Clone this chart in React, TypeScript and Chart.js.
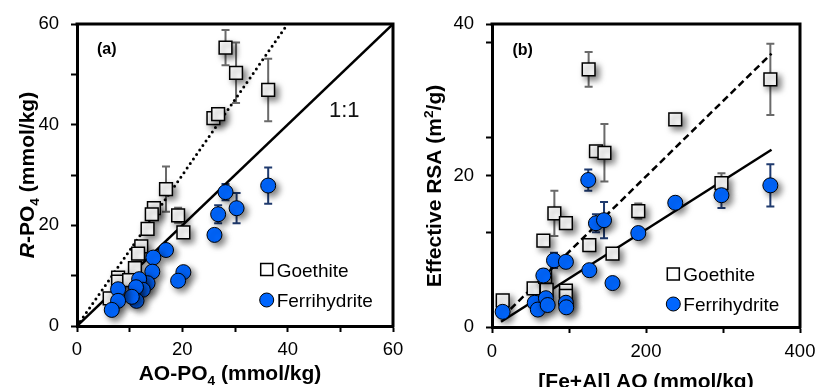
import React, { useEffect, useRef } from 'react';
import { Chart, registerables } from 'chart.js';
Chart.register(...registerables);

const FONT = "'Liberation Sans', Arial, Helvetica, sans-serif";
Chart.defaults.font.family = FONT;

// ---------- Panel (a) ----------
const aGoethiteX = [28.2, 30.2, 36.3, 25.9, 26.8, 16.9, 14.6, 14.2, 19.2, 20.2, 13.4, 12.2, 11.6, 11.0, 7.8, 7.8, 9.9, 6.2];
const aGoethiteY = [55.3, 50.3, 46.9, 41.3, 42.1, 27.2, 23.4, 22.2, 22.0, 18.6, 19.3, 15.8, 14.4, 11.5, 9.6, 8.8, 9.1, 5.5];
const aGoethiteErr = [3.5, 6.0, 6.2, 0, 1.0, 4.5, 0, 0, 1.5, 0, 0, 0, 0, 0, 0, 0, 0, 0];
const aFerriX = [36.3, 28.2, 30.3, 26.8, 26.1, 20.2, 19.2, 16.9, 14.5, 14.3, 13.4, 11.8, 12.5, 11.2, 11.3, 10.4, 7.8, 7.8, 6.6];
const aFerriY = [27.9, 26.6, 23.4, 22.2, 18.1, 10.7, 9.0, 15.1, 13.6, 10.8, 8.5, 9.3, 7.2, 7.7, 5.0, 5.8, 7.3, 5.0, 3.2];
const aFerriErr = [3.6, 1.6, 3.0, 1.8, 0, 0, 0, 0, 0, 0, 0, 0, 0, 0, 0, 0, 0, 0, 0];
const aOneToOneX = [0, 60];
const aOneToOneY = [0, 60];
const aDottedX = [0, 40];
const aDottedY = [0, 60];
const aXLabels = [0, 20, 40, 60];
const aYLabels = [0, 20, 40, 60];

// ---------- Panel (b) ----------
const bGoethiteX = [125.5, 361.5, 238, 135, 146, 81, 96, 190, 298, 66.7, 126.4, 156.5, 54, 13.9, 96, 96, 69, 71];
const bGoethiteY = [34.0, 32.7, 27.4, 23.2, 23.0, 15.0, 13.7, 15.3, 19.0, 11.4, 10.8, 9.7, 5.1, 3.5, 4.8, 4.1, 6.6, 4.9];
const bGoethiteErr = [2.3, 4.7, 0, 0, 3.8, 3.0, 0, 1.0, 1.3, 0, 0, 0.5, 0, 0, 0, 0, 0, 0];
const bFerriX = [125, 135, 145.5, 190, 80.5, 96, 66.7, 126.4, 156.5, 13.8, 55.5, 59.5, 70, 72.3, 96, 96.4, 361.5, 298, 238];
const bFerriY = [19.4, 13.7, 14.1, 12.4, 8.8, 8.6, 6.8, 7.5, 5.8, 2.0, 3.2, 2.3, 3.8, 2.9, 3.2, 2.6, 18.7, 17.4, 16.4];
const bFerriErr = [1.4, 1.2, 2.4, 0, 1.0, 0, 0.8, 0, 0, 0, 0, 0, 0, 0, 0, 0, 2.8, 1.7, 0];
const bDashedX = [13.9, 363];
const bDashedY = [1.36, 36.1];
const bSolidX = [11.7, 363];
const bSolidY = [0.7, 23.4];
const bXLabels = [0, 200, 400];
const bYTicks = [0, 12.5, 20, 25, 37.5, 40];
const bYLabels = [0, 20, 40];

const BLUE = '#0066ff';
const GOE_ERR = '#6a6a6a';
const FER_ERR = '#1f3a6e';

const pts = (xs: number[], ys: number[]) => xs.map((x, i) => ({ x, y: ys[i] }));

type Seg = { t: string; italic?: boolean; sub?: boolean; sup?: boolean };

function drawRich(ctx: CanvasRenderingContext2D, segs: Seg[], cx: number, baseY: number, size: number, rotate: boolean) {
  ctx.save();
  ctx.translate(cx, baseY);
  if (rotate) ctx.rotate(-Math.PI / 2);
  const fontOf = (s: Seg) => {
    const sz = s.sub || s.sup ? size * 0.65 : size;
    return `${s.italic ? 'italic ' : ''}bold ${sz}px ${FONT}`;
  };
  let total = 0;
  const widths = segs.map((s) => {
    ctx.font = fontOf(s);
    const w = ctx.measureText(s.t).width;
    total += w;
    return w;
  });
  let x = -total / 2;
  ctx.fillStyle = '#000';
  ctx.textBaseline = 'alphabetic';
  ctx.textAlign = 'left';
  segs.forEach((s, i) => {
    ctx.font = fontOf(s);
    const dy = s.sub ? size * 0.25 : s.sup ? -size * 0.4 : 0;
    ctx.fillText(s.t, x, dy);
    x += widths[i];
  });
  ctx.restore();
}

const shadowPlugin = {
  id: 'shadowPts',
  beforeDatasetDraw(chart: any, args: any) {
    const ds = chart.data.datasets[args.index];
    if (!ds.shadow) return;
    const ctx = chart.ctx;
    ctx.save();
    ctx.shadowColor = 'rgba(0,0,0,0.5)';
    ctx.shadowBlur = 6;
    ctx.shadowOffsetX = 3.5;
    ctx.shadowOffsetY = 3.5;
  },
  afterDatasetDraw(chart: any, args: any) {
    const ds = chart.data.datasets[args.index];
    if (!ds.shadow) return;
    chart.ctx.restore();
  },
};

const errorBarPlugin = {
  id: 'errBars',
  beforeDatasetsDraw(chart: any) {
    const ctx = chart.ctx;
    const xs = chart.scales.x;
    const ys = chart.scales.y;
    chart.data.datasets.forEach((ds: any) => {
      if (!ds.errors) return;
      ctx.save();
      ctx.strokeStyle = ds.errColor;
      ctx.lineWidth = 2;
      ds.data.forEach((p: any, i: number) => {
        const e = ds.errors[i];
        if (!e) return;
        const px = xs.getPixelForValue(p.x);
        const y1 = ys.getPixelForValue(p.y + e);
        const y2 = ys.getPixelForValue(p.y - e);
        ctx.beginPath();
        ctx.moveTo(px, y1);
        ctx.lineTo(px, y2);
        ctx.moveTo(px - 4, y1);
        ctx.lineTo(px + 4, y1);
        ctx.moveTo(px - 4, y2);
        ctx.lineTo(px + 4, y2);
        ctx.stroke();
      });
      ctx.restore();
    });
  },
};

function legend(ctx: CanvasRenderingContext2D, mx: number, y1: number, y2: number) {
  ctx.save();
  ctx.fillStyle = '#fff';
  ctx.strokeStyle = '#000';
  ctx.lineWidth = 1.5;
  ctx.fillRect(mx - 6, y1 - 6, 12, 12);
  ctx.strokeRect(mx - 6, y1 - 6, 12, 12);
  ctx.beginPath();
  ctx.arc(mx, y2, 7, 0, Math.PI * 2);
  ctx.fillStyle = BLUE;
  ctx.fill();
  ctx.lineWidth = 1;
  ctx.stroke();
  ctx.fillStyle = '#000';
  ctx.font = `19px ${FONT}`;
  ctx.textAlign = 'left';
  ctx.textBaseline = 'alphabetic';
  ctx.fillText('Goethite', mx + 10, y1 + 7);
  ctx.fillText('Ferrihydrite', mx + 10, y2 + 7);
  ctx.restore();
}

function frame(chart: any) {
  const { ctx, chartArea: a } = chart;
  ctx.save();
  ctx.strokeStyle = '#000';
  ctx.lineWidth = 3;
  ctx.beginPath();
  ctx.moveTo(a.left - 1.5, a.top);
  ctx.lineTo(a.right, a.top);
  ctx.lineTo(a.right, a.bottom + 1.5);
  ctx.stroke();
  ctx.restore();
}

const decoA = {
  id: 'decoA',
  afterDraw(chart: any) {
    const ctx = chart.ctx;
    frame(chart);
    drawRich(ctx, [{ t: 'AO-PO' }, { t: '4', sub: true }, { t: ' (mmol/kg)' }], 230, 380, 21, false);
    drawRich(ctx, [{ t: 'R', italic: true }, { t: '-PO' }, { t: '4', sub: true }, { t: ' (mmol/kg)' }], 33.5, 175, 21, true);
    ctx.save();
    ctx.fillStyle = '#000';
    ctx.font = `bold 16px ${FONT}`;
    ctx.fillText('(a)', 97, 54);
    ctx.font = `22px ${FONT}`;
    ctx.fillStyle = '#111';
    ctx.fillText('1:1', 329, 116.5);
    ctx.restore();
    legend(ctx, 266.7, 269.5, 300);
  },
};

const decoB = {
  id: 'decoB',
  afterDraw(chart: any) {
    const ctx = chart.ctx;
    frame(chart);
    drawRich(ctx, [{ t: '[Fe+Al] AO (mmol/kg)' }], 238, 388, 21, false);
    drawRich(ctx, [{ t: 'Effective RSA (m' }, { t: '2', sup: true }, { t: '/g)' }], 33, 186, 21, true);
    ctx.save();
    ctx.fillStyle = '#000';
    ctx.font = `bold 16px ${FONT}`;
    ctx.fillText('(b)', 104.5, 55);
    ctx.restore();
    legend(ctx, 265.3, 274, 304);
  },
};

function scale(min: number, max: number, step: number, labels: number[], pad: number, fit: (s: any) => void, custom?: number[]) {
  return {
    type: 'linear',
    min,
    max,
    ticks: {
      stepSize: step,
      autoSkip: false,
      maxRotation: 0,
      padding: pad,
      color: '#000',
      font: { size: 18.5, family: FONT },
      callback: (v: any) => (labels.includes(Number(v)) ? String(v) : ''),
    },
    afterBuildTicks: custom ? (s: any) => { s.ticks = custom.map((v) => ({ value: v })); } : undefined,
    grid: { drawOnChartArea: false, drawTicks: true, tickLength: 6, tickColor: '#000', tickWidth: 2 },
    border: { display: true, color: '#000', width: 3 },
    title: { display: false },
    afterFit: fit,
  };
}

function pointSet(label: string, xs: number[], ys: number[], errs: number[], isGoe: boolean) {
  return {
    label,
    data: pts(xs, ys),
    showLine: false,
    pointStyle: isGoe ? 'rect' : 'circle',
    pointRadius: isGoe ? 9 : 7.5,
    pointBackgroundColor: isGoe ? '#ffffff' : BLUE,
    pointBorderColor: '#000',
    pointBorderWidth: isGoe ? 1.5 : 1,
    shadow: true,
    errors: errs,
    errColor: isGoe ? GOE_ERR : FER_ERR,
  };
}

function lineSet(label: string, xs: number[], ys: number[], dash: number[], width: number, cap: string) {
  return {
    label,
    data: pts(xs, ys),
    showLine: true,
    pointRadius: 0,
    borderColor: '#000',
    borderWidth: width,
    borderDash: dash,
    borderCapStyle: cap,
    fill: false,
  };
}

const common = {
  responsive: false,
  animation: false,
  events: [],
  plugins: { legend: { display: false }, tooltip: { enabled: false } },
};

function configA(): any {
  return {
    type: 'scatter',
    data: {
      datasets: [
        pointSet('Ferrihydrite', aFerriX, aFerriY, aFerriErr, false),
        pointSet('Goethite', aGoethiteX, aGoethiteY, aGoethiteErr, true),
        lineSet('1:1', aOneToOneX, aOneToOneY, [], 2.5, 'butt'),
        lineSet('Goethite fit', aDottedX, aDottedY, [0, 5.5], 3, 'round'),
      ],
    },
    options: {
      ...common,
      layout: { padding: { top: 24, right: 15, left: 0, bottom: 0 } },
      scales: {
        x: scale(0, 60, 10, aXLabels, 7, (s: any) => { s.height = 61; s.paddingLeft = 0; s.paddingRight = 0; }),
        y: scale(0, 60, 10, aYLabels, 12, (s: any) => { s.width = 77; s.paddingTop = 0; s.paddingBottom = 0; }),
      },
    },
    plugins: [errorBarPlugin, shadowPlugin, decoA],
  };
}

function configB(): any {
  return {
    type: 'scatter',
    data: {
      datasets: [
        pointSet('Ferrihydrite', bFerriX, bFerriY, bFerriErr, false),
        pointSet('Goethite', bGoethiteX, bGoethiteY, bGoethiteErr, true),
        lineSet('Goethite fit', bDashedX, bDashedY, [7, 4], 2.5, 'butt'),
        lineSet('Ferrihydrite fit', bSolidX, bSolidY, [], 2.5, 'butt'),
      ],
    },
    options: {
      ...common,
      layout: { padding: { top: 24, right: 16, left: 0, bottom: 0 } },
      scales: {
        x: scale(0, 400, 100, bXLabels, 8, (s: any) => { s.height = 60; s.paddingLeft = 0; s.paddingRight = 0; }),
        y: scale(0, 40, 10, bYLabels, 12, (s: any) => { s.width = 84; s.paddingTop = 0; s.paddingBottom = 0; }, bYTicks),
      },
    },
    plugins: [errorBarPlugin, shadowPlugin, decoB],
  };
}

function Panel({ make, left }: { make: () => any; left: number }) {
  const ref = useRef<HTMLCanvasElement>(null);
  useEffect(() => {
    const chart = new Chart(ref.current as HTMLCanvasElement, make());
    return () => chart.destroy();
  }, []);
  return (
    <canvas
      ref={ref}
      width={408}
      height={387}
      style={{ position: 'absolute', left, top: 0, width: 408, height: 387 }}
    />
  );
}

export default function App() {
  return (
    <div style={{ position: 'absolute', left: 0, top: 0, width: 816, height: 387, background: '#fff', overflow: 'hidden' }}>
      <Panel make={configA} left={0} />
      <Panel make={configB} left={408} />
    </div>
  );
}
